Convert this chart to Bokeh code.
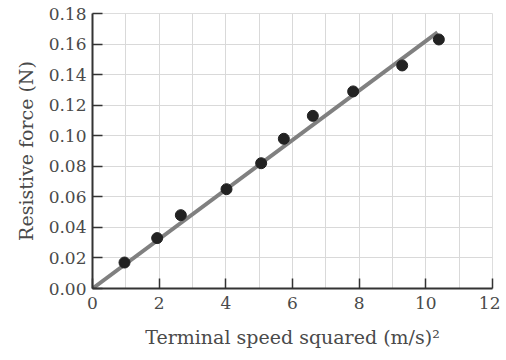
from bokeh.plotting import figure
from bokeh.models import Range1d, FixedTicker, NumeralTickFormatter
from bokeh.embed import file_html
from bokeh.resources import INLINE

# data
speed_sq = [0.96, 1.94, 2.65, 4.02, 5.06, 5.74, 6.61, 7.82, 9.29, 10.39]
force = [0.017, 0.033, 0.048, 0.065, 0.082, 0.098, 0.113, 0.129, 0.146, 0.163]
fit_x = [0.0, 10.35]
fit_y = [0.0, 0.1677]
x_ticks = [0, 2, 4, 6, 8, 10, 12]
y_ticks = [0.00, 0.02, 0.04, 0.06, 0.08, 0.10, 0.12, 0.14, 0.16, 0.18]
x_grid = list(range(0, 13))

FONT = "DejaVu Serif"
TXT = "#4a4a4a"

p = figure(width=500, height=356, output_backend="svg", toolbar_location=None,
           x_range=Range1d(0, 12), y_range=Range1d(0, 0.18),
           min_border_left=92, min_border_right=8, min_border_top=13, min_border_bottom=68)
p.outline_line_color = "#dddddd"
p.background_fill_color = "white"

p.xgrid.ticker = FixedTicker(ticks=x_grid)
p.ygrid.ticker = FixedTicker(ticks=y_ticks)
for g in (p.xgrid, p.ygrid):
    g.grid_line_color = "#d9d9d9"
    g.grid_line_width = 1

p.xaxis.ticker = FixedTicker(ticks=x_ticks)
p.yaxis.ticker = FixedTicker(ticks=y_ticks)
p.yaxis.formatter = NumeralTickFormatter(format="0.00")
for ax in (p.xaxis, p.yaxis):
    ax.axis_line_color = "#333333"
    ax.axis_line_width = 2
    ax.major_tick_line_color = "#333333"
    ax.major_tick_line_width = 1.5
    ax.major_tick_in = 10
    ax.major_tick_out = 0
    ax.minor_tick_line_color = None
    ax.major_label_text_font = FONT
    ax.major_label_text_font_size = "17px"
    ax.major_label_text_color = TXT
    ax.axis_label_text_font = FONT
    ax.axis_label_text_font_size = "19px"
    ax.axis_label_text_font_style = "normal"
    ax.axis_label_text_color = TXT
p.xaxis.major_label_standoff = 8
p.yaxis.major_label_standoff = 6
p.xaxis.axis_label = "Terminal speed squared (m/s)\u00b2"
p.yaxis.axis_label = "Resistive force (N)"
p.xaxis.axis_label_standoff = 14
p.yaxis.axis_label_standoff = 9

p.line(fit_x, fit_y, line_color="#808080", line_width=4)
p.scatter(speed_sq, force, size=11, fill_color="#222222", line_color="#222222")

open("out.html", "w").write(file_html(p, INLINE))
